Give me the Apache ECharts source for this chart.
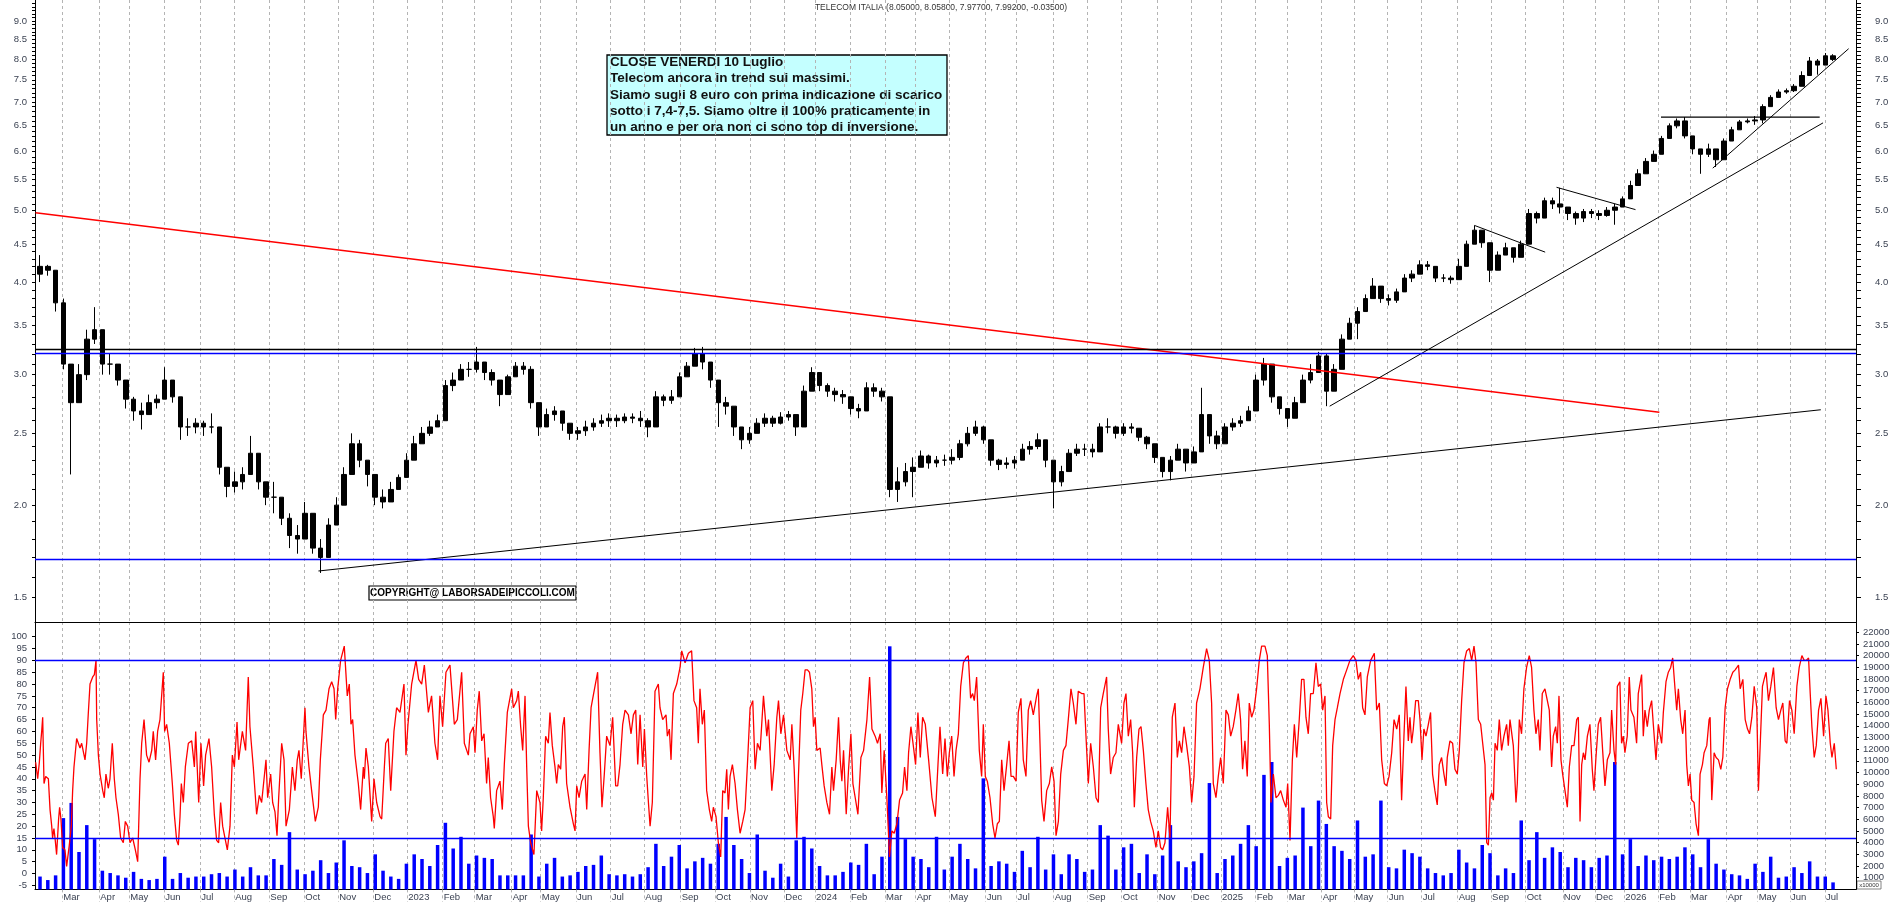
<!DOCTYPE html>
<html>
<head>
<meta charset="utf-8">
<title>TELECOM ITALIA</title>
<script src="https://cdn.jsdelivr.net/npm/echarts@6/dist/echarts.min.js"></script>
<style>
	html, body { margin: 0; padding: 0; background: #ffffff; }
	#chart { width: 1890px; height: 902px; }
</style>
</head>
<body>
<div id="chart"></div>
<script>
// x positions are days counted from Monday 2022-02-07 (the chart is drawn on a trading-day scale)
// one candle per week, placed on the Wednesday of that week: day = 2 + 7 * index
const firstOpen = 4.1

const weekClose = [
	4.2, 4.15, 3.75,
	3.1, 2.75, 3.0, 3.35, 3.45,
	3.1, 3.1, 2.95, 2.78,
	2.68, 2.65, 2.75, 2.78,
	2.95, 2.8, 2.55, 2.55, 2.58,
	2.55, 2.55, 2.25, 2.12,
	2.15, 2.2, 2.35, 2.15, 2.05,
	2.05, 1.92, 1.82, 1.8,
	1.95, 1.75, 1.7, 1.88,
	2.0, 2.2, 2.42, 2.3, 2.2,
	2.05, 2.02, 2.1, 2.18,
	2.3, 2.42, 2.5, 2.55,
	2.6, 2.9, 2.95, 3.05,
	3.05, 3.12, 3.02, 2.95, 2.82,
	2.98, 3.08, 3.05, 2.75,
	2.55, 2.65, 2.68, 2.58, 2.5,
	2.52, 2.55, 2.58, 2.6,
	2.62, 2.6, 2.63, 2.62,
	2.6, 2.55, 2.8, 2.77, 2.8,
	2.98, 3.08, 3.2, 3.12,
	2.95, 2.75, 2.72, 2.55,
	2.45, 2.5, 2.58, 2.62, 2.58,
	2.63, 2.65, 2.55, 2.85,
	3.02, 2.9, 2.85, 2.82, 2.8,
	2.7, 2.68, 2.88, 2.85,
	2.8, 2.1, 2.15, 2.22,
	2.25, 2.33, 2.28, 2.3,
	2.3, 2.32, 2.42, 2.5, 2.55,
	2.45, 2.3, 2.27, 2.28,
	2.3, 2.38, 2.4, 2.45, 2.3,
	2.15, 2.22, 2.35, 2.38,
	2.38, 2.36, 2.55, 2.55,
	2.5, 2.55, 2.54, 2.47, 2.42,
	2.32, 2.22, 2.3, 2.38,
	2.28, 2.36, 2.65, 2.48,
	2.42, 2.55, 2.58, 2.6, 2.68,
	2.95, 3.1, 2.8, 2.7,
	2.62, 2.75, 2.95, 3.02,
	3.18, 2.85, 3.05, 3.35, 3.52,
	3.65, 3.8, 3.95, 3.8,
	3.78, 3.88, 4.05, 4.1,
	4.22, 4.2, 4.05, 4.05, 4.03,
	4.2, 4.5, 4.7, 4.52,
	4.15, 4.35, 4.45, 4.32,
	4.5, 4.95, 4.88, 5.15, 5.1,
	5.05, 4.95, 4.88, 4.98,
	4.95, 4.92, 5.0, 5.05, 5.18,
	5.4, 5.6, 5.82, 5.95,
	6.25, 6.5, 6.6, 6.3,
	6.05, 5.95, 6.05, 5.85,
	6.2, 6.42, 6.58, 6.6, 6.62,
	6.9, 7.1, 7.22, 7.25,
	7.35, 7.6, 7.95, 7.85,
	8.08, 7.99
]

const weekLow = [
	4.0, 4.08, 3.65,
	3.05, 2.2, 2.85, 2.95, 3.3,
	3.0, 3.0, 2.9, 2.7,
	2.6, 2.53, 2.65, 2.7,
	2.85, 2.75, 2.45, 2.48, 2.5,
	2.48, 2.5, 2.2, 2.05,
	2.08, 2.1, 2.2, 2.1, 2.0,
	1.95, 1.88, 1.75, 1.72,
	1.82, 1.72, 1.62, 1.75,
	1.9, 2.0, 2.2, 2.25, 2.12,
	2.0, 1.98, 2.02, 2.1,
	2.18, 2.3, 2.42, 2.48,
	2.55, 2.6, 2.85, 2.95,
	2.98, 3.02, 2.95, 2.9, 2.72,
	2.85, 3.0, 3.0, 2.7,
	2.48, 2.55, 2.6, 2.52, 2.45,
	2.45, 2.48, 2.52, 2.55,
	2.55, 2.55, 2.58, 2.58,
	2.55, 2.47, 2.55, 2.72, 2.74,
	2.85, 2.98, 3.08, 3.05,
	2.88, 2.55, 2.65, 2.48,
	2.38, 2.42, 2.5, 2.55, 2.55,
	2.57, 2.6, 2.48, 2.55,
	2.88, 2.85, 2.8, 2.76, 2.74,
	2.65, 2.62, 2.7, 2.8,
	2.76, 2.05, 2.02, 2.12,
	2.05, 2.25, 2.24, 2.25,
	2.26, 2.27, 2.3, 2.4, 2.48,
	2.42, 2.26, 2.23, 2.24,
	2.24, 2.3, 2.34, 2.38, 2.25,
	1.98, 2.12, 2.22, 2.33,
	2.33, 2.32, 2.38, 2.5,
	2.46, 2.48, 2.5, 2.44, 2.38,
	2.28, 2.18, 2.16, 2.3,
	2.22, 2.3, 2.38, 2.42,
	2.38, 2.42, 2.52, 2.55, 2.6,
	2.7, 2.9, 2.75, 2.65,
	2.55, 2.62, 2.78, 2.92,
	3.05, 2.72, 2.85, 3.05, 3.35,
	3.35, 3.65, 3.82, 3.75,
	3.72, 3.75, 3.9, 4.0,
	4.1, 4.15, 4.0, 4.0, 3.98,
	4.05, 4.25, 4.5, 4.45,
	4.0, 4.15, 4.35, 4.25,
	4.35, 4.55, 4.8, 4.9, 5.02,
	4.95, 4.85, 4.78, 4.82,
	4.88, 4.85, 4.9, 4.78, 5.05,
	5.25, 5.45, 5.7, 5.85,
	6.0, 6.25, 6.45, 6.25,
	5.95, 5.6, 5.9, 5.72,
	5.95, 6.22, 6.45, 6.55, 6.52,
	6.55, 6.95, 7.1, 7.18,
	7.22, 7.35, 7.65, 7.62,
	7.92, 7.95
]

const weekHigh = [
	4.35, 4.22, 4.1,
	3.8, 3.1, 3.1, 3.45, 3.7,
	3.45, 3.2, 3.1, 2.9,
	2.8, 2.75, 2.82, 2.82,
	3.07, 2.95, 2.75, 2.62, 2.62,
	2.6, 2.66, 2.5, 2.2,
	2.22, 2.25, 2.48, 2.35, 2.15,
	2.15, 2.05, 1.95, 1.88,
	2.02, 1.92, 1.8, 1.92,
	2.05, 2.25, 2.5, 2.45, 2.3,
	2.18, 2.1, 2.15, 2.2,
	2.35, 2.48, 2.55, 2.6,
	2.65, 2.95, 3.02, 3.1,
	3.12, 3.27, 3.1, 3.05, 2.95,
	3.0, 3.12, 3.12, 3.08,
	2.7, 2.7, 2.72, 2.65, 2.58,
	2.55, 2.6, 2.62, 2.65,
	2.66, 2.65, 2.66, 2.66,
	2.68, 2.62, 2.85, 2.82, 2.86,
	3.02, 3.12, 3.26, 3.27,
	3.1, 2.9, 2.8, 2.68,
	2.55, 2.55, 2.62, 2.66, 2.64,
	2.67, 2.68, 2.65, 2.9,
	3.07, 3.0, 2.92, 2.88, 2.86,
	2.8, 2.74, 2.93, 2.92,
	2.88, 2.8, 2.25, 2.28,
	2.32, 2.37, 2.34, 2.33,
	2.34, 2.38, 2.45, 2.55, 2.6,
	2.56, 2.45, 2.31, 2.32,
	2.33, 2.42, 2.44, 2.5, 2.45,
	2.28, 2.26, 2.38, 2.42,
	2.42, 2.42, 2.58, 2.62,
	2.56, 2.58, 2.58, 2.53, 2.48,
	2.4, 2.3, 2.33, 2.42,
	2.33, 2.4, 2.88, 2.6,
	2.52, 2.58, 2.62, 2.64, 2.72,
	3.0, 3.16, 3.05, 2.8,
	2.7, 2.8, 3.0, 3.1,
	3.22, 3.2, 3.1, 3.4, 3.58,
	3.7, 3.85, 4.05, 3.95,
	3.85, 3.92, 4.1, 4.15,
	4.28, 4.27, 4.2, 4.1, 4.08,
	4.3, 4.55, 4.77, 4.65,
	4.5, 4.4, 4.52, 4.4,
	4.55, 5.02, 4.98, 5.2, 5.2,
	5.36, 5.05, 4.98, 5.02,
	5.02, 5.0, 5.05, 5.1, 5.22,
	5.48, 5.68, 5.88, 6.02,
	6.3, 6.55, 6.65, 6.68,
	6.3, 6.05, 6.15, 6.05,
	6.25, 6.48, 6.62, 6.65, 6.7,
	6.95, 7.15, 7.28, 7.3,
	7.4, 7.7, 8.05, 8.0,
	8.15, 8.12
]

// volume, thousands of shares (right axis of the lower panel)
const weekVolume = [
	1.1, 0.8, 1.2,
	6.1, 7.4, 3.2, 5.5, 4.3,
	1.6, 1.4, 1.2, 1.0,
	1.5, 0.9, 0.8, 0.9,
	2.8, 0.9, 1.4, 1.0, 1.1,
	1.1, 1.3, 1.4, 1.1,
	1.7, 1.1, 1.9, 1.2, 1.2,
	2.6, 2.1, 4.9, 1.7,
	1.3, 1.6, 2.5, 1.4,
	2.3, 4.2, 2.0, 1.9, 1.4,
	3.0, 1.6, 1.1, 0.9,
	2.2, 3.0, 2.6, 2.0,
	3.8, 5.7, 3.5, 4.5,
	2.2, 2.9, 2.7, 2.6, 1.2,
	1.2, 1.2, 1.2, 4.7,
	1.1, 2.2, 2.7, 1.1, 1.2,
	1.5, 2.0, 2.1, 2.9,
	1.3, 1.2, 1.3, 1.1,
	1.3, 1.9, 3.9, 2.0, 2.8,
	3.8, 1.8, 2.4, 2.7,
	2.2, 3.9, 6.2, 3.8,
	2.6, 1.4, 4.7, 1.6, 1.0,
	2.2, 1.1, 4.2, 4.5,
	3.5, 2.0, 1.2, 1.2, 1.5,
	2.3, 2.1, 3.9, 1.3,
	2.8, 20.8, 6.2, 4.3,
	2.8, 2.6, 1.9, 4.5,
	1.7, 2.8, 3.9, 2.6, 1.8,
	9.5, 2.0, 2.4, 2.2,
	1.5, 3.3, 1.9, 4.5, 1.7,
	3.0, 1.3, 3.0, 2.6,
	1.5, 1.7, 5.5, 4.6,
	1.7, 3.6, 3.9, 1.4, 3.0,
	1.3, 2.9, 5.5, 2.4,
	1.9, 2.4, 3.1, 9.1,
	1.4, 2.6, 2.9, 3.9, 5.5,
	3.7, 9.8, 10.9, 2.0,
	2.7, 2.9, 7.0, 3.7,
	7.6, 5.6, 3.7, 3.3, 2.6,
	5.9, 2.8, 3.0, 7.6,
	1.9, 1.8, 3.4, 3.1,
	2.8, 1.8, 1.4, 1.2, 1.4,
	3.4, 2.3, 1.8, 3.8,
	3.1, 1.2, 1.8, 1.4,
	5.9, 2.5, 4.9, 2.7, 3.6,
	3.2, 1.9, 2.7, 2.5,
	1.9, 2.7, 2.9, 10.9, 3.0,
	4.3, 2.0, 2.9, 2.5,
	2.8, 2.6, 2.8, 3.6,
	3.0, 1.9, 4.3, 2.2,
	1.7, 1.3, 1.2, 0.9, 2.2,
	1.5, 2.8, 1.0, 1.1,
	1.9, 1.4, 2.4, 1.1,
	1.1, 0.6
]

// red oscillator of the lower panel: [day, value]
const oscillator = [
	[-1.9, 47], [-0.1, 40], [1.4, 47], [2.6, 55], [3.5, 60], [4.4, 66], [5.6, 38], [7.1, 41], [9.5, 40], [11.0, 27],
	[12.5, 20], [13.3, 15], [14.5, 19], [15.7, 14], [16.9, 8], [18.7, 23], [19.6, 28], [20.8, 23], [22.3, 11], [24.4, 10],
	[25.9, 3], [28.3, 12], [30.1, 20], [31.3, 35], [32.5, 45], [34.9, 57], [37.9, 53], [39.4, 55], [42.4, 48], [43.9, 55],
	[45.4, 68], [46.9, 80], [49.3, 83], [50.8, 84], [52.3, 90], [52.9, 65], [54.4, 50], [55.9, 42], [58.3, 35], [59.7, 32],
	[61.2, 42], [63.3, 36], [64.8, 40], [66.9, 55], [68.7, 40], [70.2, 32], [72.3, 25], [74.4, 15], [76.8, 13], [78.6, 22],
	[80.7, 20], [82.8, 13], [85.2, 15], [87.6, 10], [89.7, 5], [90.6, 20], [91.8, 40], [93.3, 55], [95.4, 65], [97.7, 50],
	[99.9, 47], [102.3, 52], [103.7, 60], [105.8, 48], [107.6, 60], [109.7, 65], [112.7, 85], [113.9, 60], [115.7, 63], [118.1, 55],
	[120.8, 38], [122.6, 25], [124.7, 14], [126.2, 12], [127.7, 24], [128.9, 38], [130.7, 30], [132.5, 45], [135.2, 55], [138.2, 56],
	[140.6, 45], [141.8, 60], [144.5, 30], [146.5, 55], [148.9, 37], [150.7, 50], [153.7, 57], [156.1, 45], [158.5, 25], [160.6, 14],
	[162.4, 13], [164.2, 30], [166.0, 20], [168.1, 15], [170.2, 10], [172.6, 20], [174.7, 50], [176.5, 45], [178.9, 64], [180.4, 48],
	[183.7, 60], [186.6, 52], [189.0, 83], [190.5, 62], [193.5, 45], [196.5, 25], [198.9, 33], [201.0, 30], [204.9, 48], [206.4, 32],
	[209.1, 42], [210.9, 30], [213.0, 26], [214.8, 16], [216.3, 32], [219.0, 55], [221.1, 48], [222.9, 20], [225.9, 27], [228.6, 45],
	[230.9, 35], [233.0, 48], [234.5, 52], [236.6, 40], [239.9, 70], [240.8, 60], [243.5, 45], [245.9, 35], [249.2, 22], [251.9, 28],
	[253.7, 48], [256.4, 67], [258.8, 69], [261.5, 78], [263.9, 81], [266.0, 78], [267.5, 65], [269.3, 78], [271.9, 90], [275.2, 96],
	[277.9, 75], [279.7, 80], [281.2, 63], [282.7, 65], [284.8, 50], [287.8, 38], [289.9, 27], [292.3, 45], [293.2, 40], [294.7, 53],
	[296.8, 45], [299.8, 22], [301.9, 40], [304.3, 30], [307.3, 24], [308.8, 23], [311.2, 45], [312.4, 55], [314.7, 57], [316.9, 35],
	[319.8, 60], [322.2, 70], [325.2, 68], [328.8, 80], [330.6, 50], [332.4, 63], [335.7, 80], [339.6, 90], [342.0, 82], [344.7, 80],
	[347.1, 88], [350.7, 68], [353.6, 75], [356.6, 55], [359.0, 48], [361.1, 75], [363.5, 62], [366.5, 85], [370.1, 88], [374.0, 63],
	[376.7, 65], [380.6, 85], [383.0, 55], [386.6, 50],
	[388.1, 59], [391.1, 62], [392.6, 51], [394.6, 69], [396.4, 77], [398.6, 56], [400.7, 59], [403.0, 38], [404.5, 49], [406.6, 32],
	[409.0, 24], [409.9, 19], [412.0, 35], [415.0, 39], [417.1, 27], [418.9, 46], [421.6, 68], [425.5, 78], [427.0, 70], [430.0, 73],
	[431.5, 77], [433.6, 62], [435.4, 52], [437.5, 75], [439.0, 45], [440.5, 20], [442.6, 13], [445.5, 8], [448.0, 35], [450.9, 30],
	[452.4, 18], [453.9, 32], [456.0, 58], [458.4, 55], [459.9, 68], [462.0, 54], [464.4, 45], [465.9, 38], [467.4, 46], [469.5, 44],
	[471.3, 62], [472.8, 66], [474.9, 38], [477.9, 28], [480.9, 21], [482.4, 18], [483.9, 37], [486.0, 32], [488.4, 39], [491.4, 42],
	[492.9, 27], [495.0, 52], [496.8, 70], [500.3, 79], [502.7, 85], [504.8, 51], [506.6, 28], [508.7, 42], [510.8, 58], [513.8, 54],
	[516.2, 66], [518.9, 37], [520.7, 37], [522.8, 46], [525.2, 63], [527.3, 69], [530.3, 67], [532.7, 59], [534.8, 67], [536.9, 69],
	[538.7, 46], [540.8, 67], [543.2, 45], [544.7, 61], [546.8, 41], [548.3, 30], [549.8, 20], [551.8, 30], [554.2, 77], [557.2, 80],
	[558.7, 70], [561.1, 65], [564.1, 67], [565.3, 58], [567.1, 61], [568.6, 48], [570.7, 76], [573.7, 80], [576.7, 87], [578.2, 94],
	[581.2, 89], [584.2, 93], [587.1, 94], [589.2, 73], [591.6, 70], [593.1, 55], [594.6, 78], [596.7, 63], [598.5, 69], [600.6, 35],
	[603.0, 27], [605.1, 22], [606.6, 28], [609.0, 24], [611.1, 13], [613.2, 7], [615.0, 35], [617.1, 34], [618.6, 44], [620.1, 27],
	[621.6, 41], [623.7, 46], [626.1, 38], [628.2, 27], [630.6, 17], [633.0, 22], [635.1, 27], [637.2, 46], [639.6, 70], [642.0, 73],
	[644.1, 44], [646.2, 55], [648.6, 52], [651.6, 75], [654.6, 58], [656.1, 65], [659.1, 35], [661.2, 46], [663.6, 66], [665.1, 73],
	[667.2, 59], [669.6, 67], [672.6, 52], [675.6, 48], [677.1, 63], [679.2, 44], [681.5, 15], [683.0, 41], [685.1, 69], [686.9, 76],
	[689.0, 86], [691.1, 86], [692.9, 85], [695.0, 78], [696.5, 62], [698.0, 66], [699.5, 52], [702.5, 53], [704.0, 46], [706.1, 37],
	[708.5, 30], [710.9, 25], [713.0, 45], [714.5, 35], [716.9, 48], [719.0, 66], [720.5, 48], [722.0, 39], [723.5, 52], [725.9, 25],
	[728.0, 44], [730.1, 59], [731.9, 38], [734.0, 32], [736.4, 25], [739.1, 49], [741.5, 52], [744.5, 65], [746.9, 83], [749.0, 61],
	[751.9, 58], [754.0, 55], [756.4, 59], [757.9, 34], [760.0, 52], [762.4, 32], [764.8, 7], [766.9, 18], [769.0, 17], [771.4, 21],
	[773.8, 31], [776.5, 34], [778.3, 45], [780.4, 35], [781.9, 51], [784.0, 62], [786.4, 53], [788.2, 46], [790.3, 68], [792.4, 49],
	[794.5, 66], [796.9, 63], [799.9, 48], [802.9, 32], [805.9, 24], [808.3, 46],
	[810.1, 62], [812.5, 42], [814.6, 57], [816.7, 41], [818.5, 51], [820.6, 58], [822.7, 41], [824.5, 52], [826.6, 59], [828.7, 79],
	[831.1, 89], [833.4, 91], [835.5, 92], [837.6, 74], [839.4, 76], [840.9, 73], [843.0, 83], [845.4, 52], [847.5, 41], [849.0, 63],
	[850.8, 41], [852.6, 39], [855.0, 32], [857.4, 21], [859.5, 15], [861.6, 21], [863.4, 22], [865.5, 48], [867.6, 35], [870.0, 46],
	[872.1, 56], [873.9, 41], [876.0, 41], [878.4, 39], [880.4, 68], [882.8, 74], [884.9, 48], [887.3, 41], [889.4, 69], [891.5, 73],
	[893.9, 67], [896.9, 75], [898.4, 78], [899.9, 55], [901.4, 31], [903.5, 22], [905.9, 35], [908.3, 38], [910.4, 45], [912.5, 39],
	[914.3, 16], [916.4, 22], [918.5, 42], [920.9, 52], [923.2, 54], [925.3, 65], [927.7, 78], [929.8, 72], [932.2, 63], [934.3, 77],
	[937.3, 76], [939.4, 76], [941.2, 58], [943.3, 38], [945.4, 55], [947.8, 45], [950.2, 32], [952.3, 30], [954.4, 70], [956.7, 76],
	[959.7, 83], [961.2, 61], [963.3, 42], [965.7, 49], [968.1, 51], [970.2, 63], [973.2, 55], [975.3, 72], [977.1, 76], [979.2, 58],
	[981.3, 65], [983.1, 51], [984.6, 28], [986.7, 49], [988.8, 61], [990.6, 62], [992.7, 52], [995.0, 38], [997.1, 27], [999.2, 22],
	[1001.6, 18], [1004.0, 11], [1006.1, 18], [1008.2, 11], [1010.0, 10], [1012.1, 13], [1014.5, 28], [1016.6, 15], [1018.7, 66], [1021.1, 72],
	[1023.2, 49], [1025.0, 56], [1027.1, 51], [1029.2, 62], [1031.6, 54], [1034.0, 45], [1036.1, 30], [1038.2, 41], [1040.5, 72], [1043.5, 78],
	[1046.5, 87], [1049.5, 95], [1051.9, 90], [1054.0, 72], [1055.5, 38], [1057.9, 32], [1060.0, 41], [1062.1, 49], [1064.5, 38], [1066.9, 69],
	[1069.0, 67], [1071.1, 58], [1073.4, 62], [1075.8, 69], [1077.9, 76], [1080.0, 65], [1081.8, 44], [1083.9, 56], [1086.0, 41], [1087.8, 72],
	[1089.9, 66], [1092.0, 69], [1094.4, 78], [1096.8, 90], [1098.9, 96], [1101.9, 96], [1104.0, 92], [1105.8, 63], [1107.3, 30], [1109.4, 42],
	[1111.8, 32], [1113.9, 33], [1116.0, 35], [1118.4, 31], [1120.8, 28], [1122.3, 38], [1124.4, 14], [1126.5, 48], [1128.3, 63], [1130.4, 49],
	[1132.7, 65], [1134.8, 82], [1136.9, 82], [1138.7, 66], [1140.8, 59], [1142.9, 76], [1145.3, 76], [1147.7, 89], [1149.8, 79], [1151.9, 80],
	[1153.7, 69], [1155.8, 75], [1157.3, 30], [1158.8, 24], [1160.9, 23], [1162.7, 54], [1164.8, 65], [1166.9, 70], [1169.3, 76], [1172.3, 82],
	[1175.3, 86], [1178.2, 90], [1181.2, 92], [1183.6, 90], [1185.7, 82], [1187.8, 85], [1189.6, 70], [1191.7, 67], [1193.8, 83], [1196.8, 90],
	[1200.1, 93], [1202.2, 69], [1204.6, 72], [1206.7, 48], [1209.1, 38], [1211.2, 37], [1213.3, 41], [1215.7, 51], [1217.8, 65], [1220.2, 61],
	[1222.5, 67], [1224.6, 31], [1226.7, 58], [1228.5, 79], [1230.6, 56],
	[1232.1, 66], [1233.6, 55], [1235.1, 61], [1237.2, 73], [1239.6, 73], [1241.1, 65], [1242.9, 48], [1244.6, 61], [1246.5, 58], [1248.6, 63],
	[1250.6, 68], [1252.4, 42], [1254.5, 35], [1256.6, 29], [1258.4, 46], [1260.5, 49], [1262.6, 42], [1264.4, 37], [1265.6, 49], [1268.0, 56],
	[1270.4, 55], [1272.5, 44], [1274.6, 42], [1276.4, 52], [1278.5, 73], [1280.6, 89], [1283.0, 94], [1285.4, 95], [1287.5, 90], [1289.6, 96],
	[1291.4, 89], [1293.5, 65], [1295.6, 63], [1297.4, 55], [1299.5, 46], [1301.0, 13], [1302.5, 12], [1304.0, 32], [1305.5, 34], [1307.0, 31],
	[1308.5, 55], [1310.5, 52], [1312.3, 65], [1314.4, 52], [1316.5, 58], [1318.9, 63], [1320.4, 54], [1321.9, 65], [1324.9, 54], [1327.3, 30],
	[1328.5, 38], [1330.3, 65], [1332.3, 59], [1334.4, 78], [1336.8, 87], [1339.2, 92], [1341.3, 87], [1343.4, 69], [1345.2, 59], [1347.3, 65],
	[1348.8, 52], [1350.9, 76], [1353.3, 78], [1354.8, 78], [1357.2, 69], [1359.3, 45], [1360.8, 58], [1362.9, 62], [1364.4, 55], [1365.9, 75],
	[1367.7, 48], [1369.2, 42], [1371.3, 35], [1373.4, 28], [1375.2, 45], [1377.3, 54], [1379.4, 54], [1381.8, 65], [1383.3, 66], [1384.8, 22],
	[1386.3, 46], [1387.8, 51], [1389.3, 48], [1391.4, 58], [1393.7, 63], [1395.8, 44], [1397.3, 35], [1399.1, 49], [1401.2, 63], [1403.3, 66],
	[1405.1, 52], [1407.2, 37], [1409.3, 48], [1411.7, 51], [1413.2, 69], [1415.3, 52], [1416.8, 46], [1418.3, 79], [1420.6, 81], [1422.1, 55],
	[1423.6, 58], [1425.1, 51], [1427.2, 58], [1429.0, 83], [1430.5, 69], [1432.0, 69], [1433.2, 66], [1435.6, 55], [1437.1, 76], [1440.1, 84],
	[1441.6, 58], [1443.1, 69], [1445.2, 62], [1447.0, 69], [1449.1, 73], [1450.6, 63], [1453.0, 48], [1455.1, 63], [1456.6, 63], [1458.1, 55],
	[1459.6, 68], [1462.0, 81], [1464.1, 85], [1466.2, 87], [1468.0, 91], [1470.1, 78], [1471.6, 69], [1473.1, 78], [1475.2, 65], [1477.0, 59],
	[1479.1, 69], [1480.6, 46], [1482.1, 37], [1483.6, 42], [1485.1, 31], [1487.2, 30], [1489.0, 21], [1491.1, 16], [1492.6, 42], [1494.7, 46],
	[1496.2, 51], [1498.6, 54], [1500.7, 65], [1501.6, 66], [1503.1, 31], [1505.2, 51], [1507.0, 49], [1509.1, 48], [1511.2, 44], [1513.0, 49],
	[1515.1, 70], [1517.2, 78], [1519.6, 82], [1522.0, 85], [1524.1, 86], [1527.1, 88], [1528.6, 78], [1531.0, 82], [1533.1, 65], [1535.2, 61],
	[1537.0, 59], [1539.1, 66], [1541.2, 79], [1543.5, 70], [1545.0, 35], [1546.5, 35], [1548.6, 79], [1550.1, 82], [1551.9, 85], [1554.0, 73],
	[1556.1, 79], [1558.5, 87], [1560.9, 70], [1563.0, 65], [1565.1, 69], [1566.9, 72], [1569.0, 56], [1570.5, 55], [1572.9, 73], [1575.0, 69],
	[1577.1, 59], [1579.5, 79], [1581.6, 87], [1584.0, 92], [1586.1, 90], [1587.9, 90], [1590.0, 91], [1591.5, 76], [1593.0, 62], [1595.1, 49],
	[1596.9, 54], [1599.0, 69], [1601.1, 74], [1603.5, 58], [1605.6, 75], [1607.4, 69], [1609.5, 55], [1611.0, 49], [1613.1, 55], [1614.9, 44]
]

// month gridlines as they sit on the trading-day scale
const monthTickDays = [
	22.0, 55.2, 82.2, 113.6, 145.9, 176.4, 207.9, 239.3, 269.8, 301.3,
	331.8, 363.6, 392.3, 425.5, 451.6, 483.3, 514.4, 544.6, 577.3, 608.1, 639.5, 670.3,
	697.9, 729.3, 760.7, 788.3, 818.4, 851.1, 878.9, 912.2, 942.7, 973.3, 1005.6, 1036.1,
	1062.4, 1093.6, 1122.3, 1152.8, 1182.1, 1212.1, 1242.6, 1275.0, 1304.9, 1336.0, 1369.3, 1398.3,
	1424.6, 1455.1, 1483.6, 1516.5, 1544.3, 1573.3, 1604.7
]
const monthTickLabels = [
	'Mar', 'Apr', 'May', 'Jun', 'Jul', 'Aug', 'Sep', 'Oct', 'Nov', 'Dec',
	'2023', 'Feb', 'Mar', 'Apr', 'May', 'Jun', 'Jul', 'Aug', 'Sep', 'Oct', 'Nov', 'Dec',
	'2024', 'Feb', 'Mar', 'Apr', 'May', 'Jun', 'Jul', 'Aug', 'Sep', 'Oct', 'Nov', 'Dec',
	'2025', 'Feb', 'Mar', 'Apr', 'May', 'Jun', 'Jul', 'Aug', 'Sep', 'Oct', 'Nov', 'Dec',
	'2026', 'Feb', 'Mar', 'Apr', 'May', 'Jun', 'Jul'
]

const priceTicks = [1.5, 2.0, 2.5, 3.0, 3.5, 4.0, 4.5, 5.0, 5.5, 6.0, 6.5, 7.0, 7.5, 8.0, 8.5, 9.0]
const oscTicks = [-5, 0, 5, 10, 15, 20, 25, 30, 35, 40, 45, 50, 55, 60, 65, 70, 75, 80, 85, 90, 95, 100]
const volumeTicks = [1, 2, 3, 4, 5, 6, 7, 8, 9, 10, 11, 12, 13, 14, 15, 16, 17, 18, 19, 20, 21, 22]

// drawn levels and trendlines on the price panel
const flatLevels = [
	{ value: 3.25, color: '#000000' },
	{ value: 3.21, color: '#0000ff' },
	{ value: 1.69, color: '#0000ff' }
]
const trendLines = [
	{ color: '#ff0000', width: 1.5, from: [-2, 4.96], to: [1456, 2.67] },
	{ color: '#000000', width: 1.2, from: [252, 1.63], to: [1601, 2.69] },
	{ color: '#000000', width: 1, from: [1160, 2.72], to: [1603, 6.56] },
	{ color: '#000000', width: 1, from: [1290, 4.77], to: [1353.5, 4.39] },
	{ color: '#000000', width: 1, from: [1363.7, 5.37], to: [1434.6, 5.01] },
	{ color: '#000000', width: 1.3, from: [1457.5, 6.68], to: [1600, 6.68] },
	{ color: '#000000', width: 1, from: [1504, 5.7], to: [1626, 8.26] }
]
const oscLevels = [90, 15]

const titleText = 'TELECOM ITALIA (8.05000, 8.05800, 7.97700, 7.99200, -0.03500)'
const noteLines = [
	'CLOSE VENERDI 10 Luglio',
	'Telecom ancora in trend sui massimi.',
	'Siamo sugli 8 euro con prima indicazione di scarico',
	'sotto i 7,4-7,5. Siamo oltre il 100% praticamente in',
	'un anno e per ora non ci sono top di inversione.'
]
const copyrightText = 'COPYRIGHT@ LABORSADEIPICCOLI.COM'

const font = '"Liberation Sans", Arial, sans-serif'
const labelColor = '#3b4252'
const gridColor = '#b4b4b4'

const weekDays = weekClose.map((_, i) => 2 + 7 * i)
const candles = weekClose.map((c, i) => {
	const o = i === 0 ? firstOpen : weekClose[i - 1]
	return [weekDays[i], o, c, Math.min(weekLow[i], o, c), Math.max(weekHigh[i], o, c)]
})

const priceMinorTicks = []
for (let v = 15; v <= 95; v++) priceMinorTicks.push(v / 10)

const monthLabel = (v) => {
	const i = monthTickDays.findIndex(d => Math.abs(d - v) < 0.05)
	return i >= 0 ? monthTickLabels[i] : ''
}

const xRange = { min: -2.5, max: 1632.6 }
const dashed = { color: gridColor, type: [3, 3], width: 1 }
const axisText = { fontFamily: font, fontSize: 9.5, color: labelColor }

const chart = echarts.init(document.getElementById('chart'), null, { renderer: 'canvas' })

chart.setOption({
	animation: false,
	backgroundColor: '#ffffff',
	grid: [
		{ left: 35, right: 34, top: 0, height: 622, outerBoundsMode: 'none' },
		{ left: 35, right: 34, top: 622, height: 267.4, outerBoundsMode: 'none' }
	],
	xAxis: [
		{
			type: 'value',
			gridIndex: 0,
			...xRange,
			axisLine: { show: true, onZero: false, lineStyle: { color: '#000000', width: 1.2 } },
			axisTick: { show: false, customValues: monthTickDays },
			axisLabel: { show: false, customValues: monthTickDays },
			splitLine: { show: true, lineStyle: dashed }
		},
		{
			type: 'value',
			gridIndex: 1,
			...xRange,
			axisLine: { show: true, onZero: false, lineStyle: { color: '#000000', width: 1 } },
			axisTick: { show: true, customValues: monthTickDays, length: 13, lineStyle: dashed },
			axisLabel: {
				customValues: monthTickDays,
				formatter: monthLabel,
				align: 'left',
				margin: 3,
				padding: [0, 0, 0, 1],
				...axisText
			},
			splitLine: { show: true, lineStyle: dashed }
		}
	],
	yAxis: [
		{
			type: 'log',
			gridIndex: 0,
			position: 'left',
			min: 1.391,
			max: 9.61,
			axisLine: { show: true, onZero: false, lineStyle: { color: '#000000' } },
			axisTick: { show: true, customValues: priceMinorTicks, length: 3, lineStyle: { color: '#000000' } },
			axisLabel: { customValues: priceTicks, formatter: v => v.toFixed(1), margin: 8, ...axisText },
			splitLine: { show: false }
		},
		{
			type: 'log',
			gridIndex: 0,
			position: 'right',
			min: 1.391,
			max: 9.61,
			axisLine: { show: true, onZero: false, lineStyle: { color: '#000000' } },
			axisTick: { show: true, customValues: priceMinorTicks, length: 5, lineStyle: { color: '#000000' } },
			axisLabel: { customValues: priceTicks, formatter: v => v.toFixed(1), margin: 19, ...axisText },
			splitLine: { show: false }
		},
		{
			type: 'value',
			gridIndex: 1,
			position: 'left',
			min: -6.7,
			max: 106.2,
			axisLine: { show: true, onZero: false, lineStyle: { color: '#000000' } },
			axisTick: { show: true, customValues: oscTicks, length: 3, lineStyle: { color: '#000000' } },
			axisLabel: { customValues: oscTicks, margin: 8, ...axisText },
			splitLine: { show: false }
		},
		{
			type: 'value',
			gridIndex: 1,
			position: 'right',
			min: 0,
			max: 22.88,
			axisLine: { show: true, onZero: false, lineStyle: { color: '#000000' } },
			axisTick: { show: true, customValues: volumeTicks, length: 3, lineStyle: { color: '#000000' } },
			axisLabel: { customValues: volumeTicks, formatter: v => String(Math.round(v * 1000)), margin: 7, ...axisText },
			splitLine: { show: false }
		}
	],
	series: [
		{
			type: 'candlestick',
			xAxisIndex: 0,
			yAxisIndex: 0,
			data: candles,
			encode: { x: 0, y: [1, 2, 3, 4] },
			barWidth: 5,
			z: 3,
			itemStyle: {
				color: '#000000',
				color0: '#000000',
				borderColor: '#000000',
				borderColor0: '#000000',
				borderWidth: 1
			},
			markLine: {
				silent: true,
				symbol: 'none',
				label: { show: false },
				data: flatLevels.map(l => ({ yAxis: l.value, lineStyle: { color: l.color, width: 1.4, type: 'solid' } }))
			}
		},
		...trendLines.map(t => ({
			type: 'line',
			xAxisIndex: 0,
			yAxisIndex: 0,
			data: [t.from, t.to],
			symbol: 'none',
			silent: true,
			z: 4,
			lineStyle: { color: t.color, width: t.width }
		})),
		{
			type: 'bar',
			xAxisIndex: 1,
			yAxisIndex: 3,
			data: weekDays.map((d, i) => [d, weekVolume[i]]),
			barWidth: 3.5,
			z: 2,
			itemStyle: { color: '#0000ff' }
		},
		{
			type: 'line',
			xAxisIndex: 1,
			yAxisIndex: 2,
			data: oscillator,
			symbol: 'none',
			z: 3,
			lineStyle: { color: '#ff0000', width: 1.3 },
			markLine: {
				silent: true,
				symbol: 'none',
				label: { show: false },
				data: oscLevels.map(v => ({ yAxis: v, lineStyle: { color: '#0000ff', width: 1.4, type: 'solid' } }))
			}
		}
	],
	graphic: [
		{
			type: 'text',
			x: 941,
			y: 8,
			style: { text: titleText, font: '8.5px ' + font, fill: '#333333', align: 'center', verticalAlign: 'middle' }
		},
		{
			type: 'group',
			z: 10,
			children: [
				{
					type: 'rect',
					shape: { x: 607, y: 55, width: 340, height: 80 },
					style: { fill: '#c4ffff', stroke: '#000000', lineWidth: 1.3 }
				},
				...noteLines.map((line, i) => ({
					type: 'text',
					x: 610,
					y: 62.5 + i * 16.2,
					style: { text: line, font: 'bold 13.5px ' + font, fill: '#111111', verticalAlign: 'middle' }
				}))
			]
		},
		{
			type: 'group',
			z: 10,
			children: [
				{
					type: 'rect',
					shape: { x: 369, y: 586, width: 207, height: 14 },
					style: { fill: '#ffffff', stroke: '#000000', lineWidth: 1.2 }
				},
				{
					type: 'text',
					x: 472.5,
					y: 593.5,
					style: { text: copyrightText, font: 'bold 10px ' + font, fill: '#000000', align: 'center', verticalAlign: 'middle' }
				}
			]
		},
		{
			type: 'group',
			children: [
				{
					type: 'rect',
					shape: { x: 1857, y: 881, width: 24, height: 8 },
					style: { fill: '#ffffff', stroke: '#666666', lineWidth: 0.8 }
				},
				{
					type: 'text',
					x: 1869,
					y: 885,
					style: { text: 'x10000', font: '6px ' + font, fill: '#333333', align: 'center', verticalAlign: 'middle' }
				}
			]
		}
	]
})
</script>
</body>
</html>
